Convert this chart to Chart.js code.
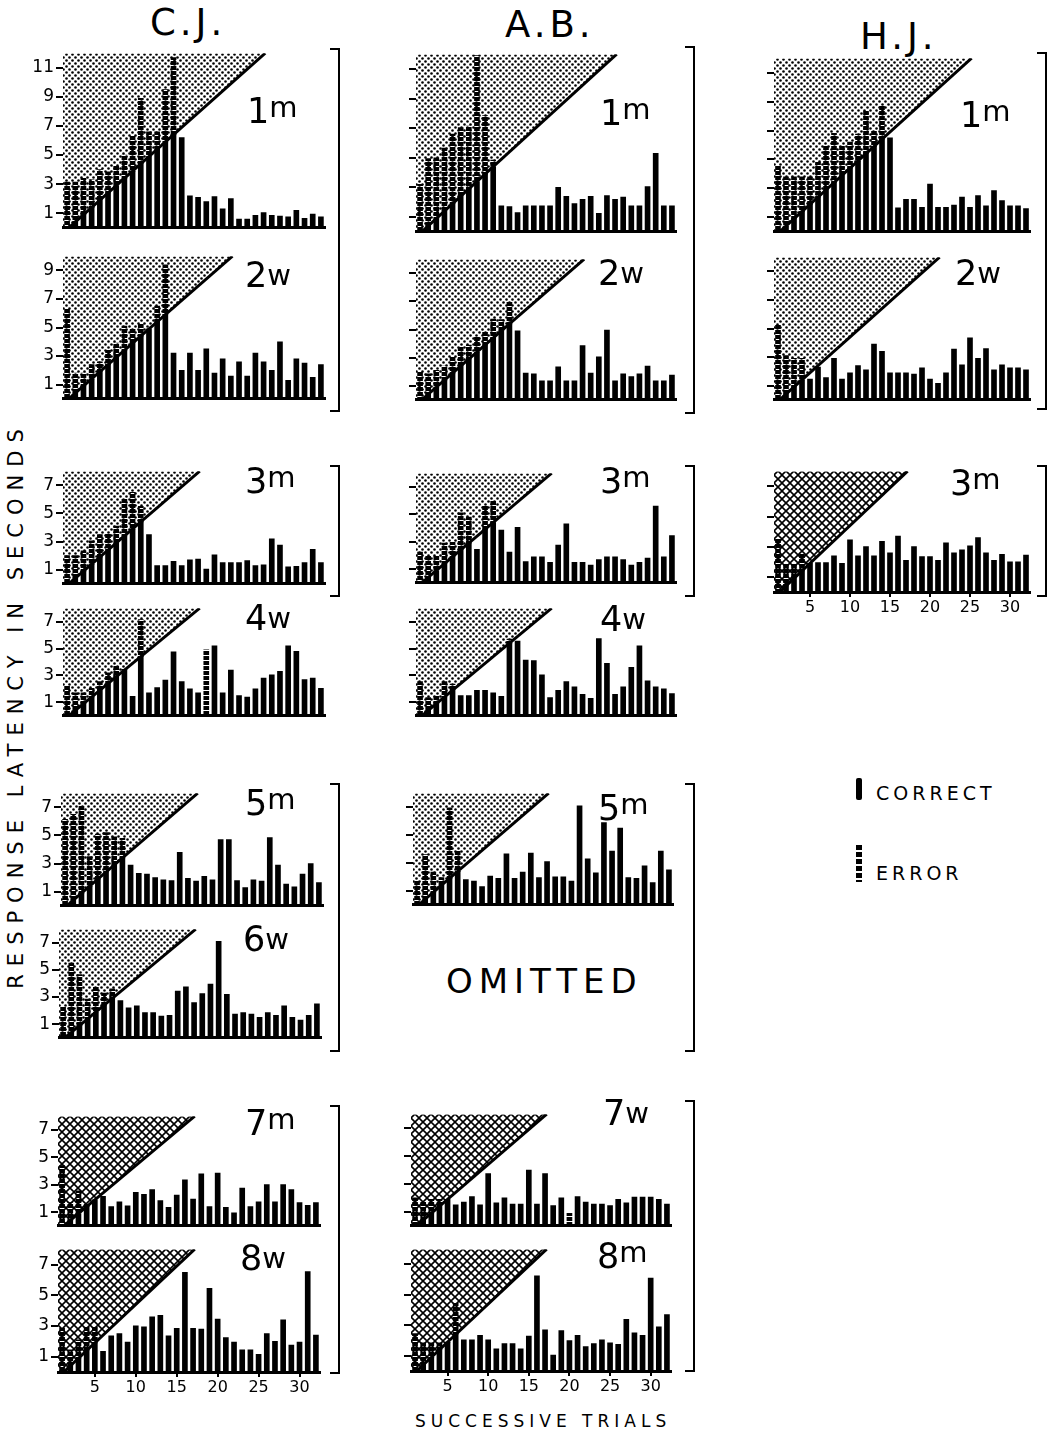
<!DOCTYPE html>
<html>
<head>
<meta charset="utf-8">
<title>Response latency</title>
<script src="https://cdn.jsdelivr.net/npm/chart.js@4.4.1/dist/chart.umd.min.js"></script>
<style>
  html, body { margin: 0; padding: 0; background: #fff; }
  body { position: relative; width: 1053px; height: 1436px; overflow: hidden; font-family: "DejaVu Sans", sans-serif; color: #000; }
  canvas { position: absolute; }
  .t { position: absolute; line-height: 1; white-space: nowrap; }
  .hd { font-size: 37px; letter-spacing: 4px; }
  .lab { font-size: 35px; }
  .lab span { position: relative; font-size: 29px; }
  .br { position: absolute; border: 2px solid #000; border-left: none; width: 8px; }
</style>
</head>
<body>

<div class="t hd" style="left:150px;top:4px">C.J.</div>
<div class="t hd" style="left:505px;top:6px">A.B.</div>
<div class="t hd" style="left:860px;top:18px">H.J.</div>

<div class="t" style="left:16px;top:705px;font-size:21px;letter-spacing:8px;transform:translate(-50%,-50%) rotate(-90deg)">RESPONSE LATENCY IN SECONDS</div>
<div class="t" style="left:415px;top:1413px;font-size:17px;letter-spacing:5px">SUCCESSIVE TRIALS</div>
<div class="t" style="left:446px;top:964px;font-size:34px;letter-spacing:6px">OMITTED</div>

<div style="position:absolute;left:856px;top:778px;width:6px;height:22px;background:#000;border-radius:2px"></div>
<div class="t" style="left:876px;top:784px;font-size:19px;letter-spacing:4px">CORRECT</div>
<div style="position:absolute;left:856px;top:845px;width:6px;height:37px;background:repeating-linear-gradient(#000 0 5px, transparent 5px 7px)"></div>
<div class="t" style="left:876px;top:864px;font-size:19px;letter-spacing:4px">ERROR</div>

<div class="br" style="left:330px;top:48px;height:360px"></div>
<div class="br" style="left:330px;top:465px;height:128px"></div>
<div class="br" style="left:330px;top:783px;height:265px"></div>
<div class="br" style="left:330px;top:1105px;height:265px"></div>
<div class="br" style="left:685px;top:46px;height:364px"></div>
<div class="br" style="left:685px;top:465px;height:128px"></div>
<div class="br" style="left:685px;top:783px;height:265px"></div>
<div class="br" style="left:685px;top:1100px;height:268px"></div>
<div class="br" style="left:1037px;top:52px;height:354px"></div>
<div class="br" style="left:1037px;top:465px;height:128px"></div>

<script>
// trials and axis ticks
const TRIALS = [1,2,3,4,5,6,7,8,9,10,11,12,13,14,15,16,17,18,19,20,21,22,23,24,25,26,27,28,29,30,31,32];
const X_LABELS = [5, 10, 15, 20, 25, 30];
const Y_TICKS_12 = [1,2,3,4,5,6,7,8,9,10,11,12];
const Y_TICKS_10 = [1,2,3,4,5,6,7,8,9,10];
const Y_TICKS_8 = [1,2,3,4,5,6,7,8];

// diagonal: latency = SLOPE * (trial - X0)
const SLOPE = 0.5, X0 = 1.2;

// latencies (seconds), trials 1-32
const CJ_1m = [3.15,3.15,3.4,3.3,4.0,3.85,4.3,5.0,6.3,8.9,6.6,6.6,9.5,11.7,6.2,2.2,2.1,1.8,2.15,1.3,2.0,0.6,0.6,0.85,1.05,0.85,0.8,0.75,1.2,0.65,0.95,0.75];
const CJ_2w = [6.3,1.8,1.8,2.4,2.6,3.4,3.9,5.1,4.9,5.3,4.9,6.5,9.4,3.2,2.0,3.2,2.0,3.5,1.8,2.8,1.6,2.6,1.6,3.2,2.6,2.0,4.0,1.3,2.8,2.5,1.5,2.4];
const CJ_3m = [2.0,2.0,2.35,3.05,3.5,3.55,4.1,6.0,6.5,5.5,3.5,1.3,1.3,1.6,1.3,1.7,1.75,1.05,2.05,1.5,1.5,1.5,1.65,1.3,1.35,3.2,2.75,1.2,1.25,1.5,2.45,1.5];
const CJ_4w = [2.25,1.7,1.7,2.05,2.55,3.2,3.7,3.45,1.45,7.15,1.7,2.1,2.65,4.75,2.55,2.0,1.7,4.9,5.2,1.7,3.4,1.5,1.4,2.0,2.8,3.05,3.3,5.2,4.8,2.7,2.8,2.05];
const CJ_4w_ERR = [18];
const CJ_5m = [6.15,6.5,7.1,3.5,5.1,5.2,4.9,4.8,2.9,2.3,2.25,2.0,1.85,1.8,3.8,1.95,1.75,2.1,1.85,4.7,4.7,1.8,1.3,1.85,1.75,4.85,2.9,1.55,1.35,2.25,3.0,1.65];
const CJ_6w = [2.3,5.5,4.65,2.85,3.8,3.3,3.6,2.75,2.2,2.35,1.85,1.85,1.6,1.65,3.45,3.75,2.6,3.25,3.95,7.1,3.2,1.75,1.85,1.75,1.5,1.85,1.65,2.35,1.5,1.3,1.65,2.5];
const CJ_7m = [4.4,1.7,2.55,1.6,1.9,2.15,1.4,1.75,1.45,2.45,2.3,2.65,1.85,1.35,2.25,3.35,1.95,3.8,1.4,3.85,1.35,0.95,2.75,1.4,1.75,3.0,1.75,3.0,2.65,1.7,1.5,1.7];
const CJ_8w = [2.85,1.45,2.1,2.95,2.95,1.35,2.35,2.5,1.95,3.0,2.95,3.6,3.7,2.35,2.85,6.5,2.85,2.8,5.45,3.45,2.25,1.95,1.45,1.45,1.15,2.5,2.0,3.4,1.75,1.95,6.55,2.4];

const AB_1m = [3.2,4.95,5.0,5.65,6.6,7.05,7.15,11.9,7.85,4.85,1.75,1.7,1.3,1.75,1.75,1.75,1.75,3.0,2.4,1.9,2.2,2.4,1.25,2.45,2.2,2.35,1.75,1.75,3.05,5.3,1.75,1.75];
const AB_2w = [2.0,1.85,2.1,2.4,3.05,3.8,3.9,4.45,4.85,5.75,5.7,7.0,4.9,1.9,1.85,1.35,1.35,2.35,1.35,1.35,3.85,1.9,3.05,4.95,1.35,1.85,1.65,1.85,2.4,1.35,1.35,1.75];
const AB_3m = [2.25,1.95,1.95,2.9,2.95,5.1,4.8,2.45,5.6,5.95,3.85,2.25,4.05,1.55,1.9,1.9,1.5,2.75,4.3,1.5,1.5,1.3,1.7,1.9,1.9,1.7,1.3,1.5,1.8,5.6,1.9,3.45];
const AB_4w = [2.55,1.35,1.5,2.55,2.35,1.5,1.5,1.9,1.9,1.7,1.45,5.7,5.55,4.15,4.1,3.05,1.35,1.9,2.55,2.15,1.6,1.3,5.75,3.9,1.6,2.15,3.6,5.2,2.6,2.15,2.0,1.65];
const AB_5m = [1.7,3.6,2.35,1.95,6.95,3.9,1.8,1.7,1.3,2.05,1.9,3.65,1.9,2.35,3.7,1.95,3.1,2.0,2.0,1.7,7.1,3.3,2.3,5.9,3.85,5.5,1.95,1.9,2.8,1.6,3.85,2.5];
const AB_7w = [2.0,1.7,1.9,1.9,1.9,1.5,1.7,2.1,1.5,3.75,1.65,2.0,1.55,1.55,4.0,1.55,3.75,1.45,2.0,0.9,2.1,1.7,1.55,1.55,1.45,1.9,1.65,2.05,2.05,2.05,1.9,1.55];
const AB_7w_ERR = [20];
const AB_8m = [2.45,1.85,1.85,1.85,1.95,4.45,2.05,2.05,2.35,2.05,1.45,1.8,1.8,1.45,2.3,6.25,2.7,1.05,2.65,2.0,2.35,1.6,1.8,2.05,1.85,1.75,3.4,2.5,2.35,6.1,2.9,3.7];

const HJ_1m = [4.55,3.8,3.8,3.8,3.8,4.8,5.9,6.8,5.9,6.2,6.75,8.35,7.0,8.7,6.5,1.65,2.25,2.25,1.7,3.3,1.7,1.7,1.85,2.4,1.7,2.5,1.8,2.85,2.15,1.8,1.8,1.6];
const HJ_2w = [5.3,3.1,2.9,2.9,1.45,2.3,1.55,2.9,1.45,1.9,2.4,2.1,3.9,3.4,1.9,1.9,1.9,1.8,2.25,1.45,1.15,1.9,3.55,2.45,4.35,2.9,3.6,2.1,2.45,2.25,2.25,2.1];
const HJ_3m = [3.5,1.9,1.9,2.5,1.9,1.95,1.95,2.4,1.9,3.45,2.4,3.0,2.4,3.35,2.6,3.7,2.1,3.0,2.35,2.35,2.1,3.25,2.6,2.8,3.05,3.6,2.6,2.1,2.5,2.0,2.0,2.45];

// panel placement (chart area in page pixels)
const PANELS = [
  {values: CJ_1m, ymax: 12, yticks: Y_TICKS_12, left: 63, top: 47, bottom: 237, w: 262, nums: true, hatch: 'dots', tag: ['1', 'm'], lx: 247, ly: 94},
  {values: CJ_2w, ymax: 10, yticks: Y_TICKS_10, left: 63, top: 250, bottom: 408, w: 262, nums: true, hatch: 'dots', tag: ['2', 'w'], lx: 245, ly: 258},
  {values: CJ_3m, ymax: 8, yticks: Y_TICKS_8, left: 63, top: 465, bottom: 593, w: 262, nums: true, hatch: 'dots', tag: ['3', 'm'], lx: 245, ly: 464},
  {values: CJ_4w, errors: CJ_4w_ERR, ymax: 8, yticks: Y_TICKS_8, left: 63, top: 602, bottom: 725, w: 262, nums: true, hatch: 'dots', tag: ['4', 'w'], lx: 245, ly: 601},
  {values: CJ_5m, ymax: 8, yticks: Y_TICKS_8, left: 61, top: 787, bottom: 915, w: 262, nums: true, hatch: 'dots', tag: ['5', 'm'], lx: 245, ly: 786},
  {values: CJ_6w, ymax: 8, yticks: Y_TICKS_8, left: 59, top: 923, bottom: 1047, w: 262, nums: true, hatch: 'dots', tag: ['6', 'w'], lx: 243, ly: 922},
  {values: CJ_7m, ymax: 8, yticks: Y_TICKS_8, left: 58, top: 1110, bottom: 1235, w: 262, nums: true, hatch: 'cross', tag: ['7', 'm'], lx: 245, ly: 1106},
  {values: CJ_8w, ymax: 8, yticks: Y_TICKS_8, left: 58, top: 1243, bottom: 1372, w: 262, nums: true, xl: true, hatch: 'cross', tag: ['8', 'w'], lx: 240, ly: 1241},

  {values: AB_1m, ymax: 12, yticks: Y_TICKS_12, left: 416, top: 48, bottom: 241, w: 260, hatch: 'dots', tag: ['1', 'm'], lx: 600, ly: 96},
  {values: AB_2w, ymax: 10, yticks: Y_TICKS_10, left: 416, top: 253, bottom: 409, w: 260, hatch: 'dots', tag: ['2', 'w'], lx: 598, ly: 256},
  {values: AB_3m, ymax: 8, yticks: Y_TICKS_8, left: 416, top: 467, bottom: 592, w: 260, hatch: 'dots', tag: ['3', 'm'], lx: 600, ly: 464},
  {values: AB_4w, ymax: 8, yticks: Y_TICKS_8, left: 416, top: 602, bottom: 725, w: 260, hatch: 'dots', tag: ['4', 'w'], lx: 600, ly: 602},
  {values: AB_5m, ymax: 8, yticks: Y_TICKS_8, left: 413, top: 787, bottom: 914, w: 260, hatch: 'dots', tag: ['5', 'm'], lx: 598, ly: 791},
  {values: AB_7w, errors: AB_7w_ERR, ymax: 8, yticks: Y_TICKS_8, left: 411, top: 1108, bottom: 1235, w: 260, hatch: 'cross', tag: ['7', 'w'], lx: 603, ly: 1096},
  {values: AB_8m, ymax: 8, yticks: Y_TICKS_8, left: 411, top: 1243, bottom: 1371, w: 260, xl: true, hatch: 'cross', tag: ['8', 'm'], lx: 597, ly: 1239},

  {values: HJ_1m, ymax: 12, yticks: Y_TICKS_12, left: 774, top: 52, bottom: 241, w: 256, hatch: 'dots', tag: ['1', 'm'], lx: 960, ly: 98},
  {values: HJ_2w, ymax: 10, yticks: Y_TICKS_10, left: 774, top: 251, bottom: 409, w: 256, hatch: 'dots', tag: ['2', 'w'], lx: 955, ly: 256},
  {values: HJ_3m, ymax: 8, yticks: Y_TICKS_8, left: 774, top: 465, bottom: 592, w: 256, xl: true, hatch: 'cross', tag: ['3', 'm'], lx: 950, ly: 466}
];

Chart.defaults.font.family = '"DejaVu Sans", sans-serif';
Chart.defaults.color = '#000';

function tile(w, h, paint) {
  const c = document.createElement('canvas');
  c.width = w; c.height = h;
  paint(c.getContext('2d'));
  return c;
}
// bead column for error / above-diagonal bar parts
const BEAD = tile(1, 5, g => { g.fillStyle = '#000'; g.fillRect(0, 0, 1, 4); });
// dot screen and cross-hatch for the shaded triangle
const DOTS = tile(6, 6, g => {
  g.fillStyle = '#000';
  g.beginPath(); g.arc(1.5, 1.5, 1.3, 0, Math.PI * 2); g.fill();
  g.beginPath(); g.arc(4.5, 4.5, 1.3, 0, Math.PI * 2); g.fill();
});
const CROSS = tile(8, 8, g => {
  g.strokeStyle = '#000'; g.lineWidth = 1.6;
  g.beginPath(); g.moveTo(0, 0); g.lineTo(8, 8); g.moveTo(8, 0); g.lineTo(0, 8); g.stroke();
});

function drawPanel(p) {
  const yW = 40, padT = 6, padR = 3, xH = p.xl ? 26 : 3;
  const cv = document.createElement('canvas');
  cv.width = yW + p.w + padR;
  cv.height = padT + (p.bottom - p.top) + xH;
  cv.style.left = (p.left - yW) + 'px';
  cv.style.top = (p.top - padT) + 'px';
  document.body.appendChild(cv);
  const ctx = cv.getContext('2d');

  // split each bar: solid under the diagonal, beaded above it; errors beaded whole
  const solid = [], above = [], wrong = [];
  p.values.forEach((v, i) => {
    const t = TRIALS[i];
    if ((p.errors || []).includes(t)) { wrong.push({x: t, y: [0, v]}); return; }
    const d = Math.max(0, SLOPE * (t - X0));
    solid.push({x: t, y: [0, Math.min(v, d)]});
    if (v > d) above.push({x: t, y: [d, v]});
  });
  const xEnd = X0 + p.ymax / SLOPE;
  const edge = [{x: 0.5, y: 0}, {x: X0, y: 0}, {x: xEnd, y: p.ymax}];
  const bead = ctx.createPattern(BEAD, 'repeat');
  const bar = {type: 'bar', barThickness: 5, grouped: false, borderWidth: 0, order: 2};

  new Chart(ctx, {
    type: 'bar',
    data: {
      datasets: [
        {type: 'line', data: edge, fill: 'end', backgroundColor: ctx.createPattern(p.hatch === 'cross' ? CROSS : DOTS, 'repeat'),
         borderWidth: 0, pointRadius: 0, order: 5},
        {...bar, data: solid, backgroundColor: '#000'},
        {...bar, data: above, backgroundColor: bead},
        {...bar, data: wrong, backgroundColor: bead},
        {type: 'line', data: edge.slice(1), fill: false, borderColor: '#000', borderWidth: 3, pointRadius: 0, order: 0}
      ]
    },
    options: {
      responsive: false,
      animation: false,
      devicePixelRatio: 1,
      layout: {padding: {top: padT, right: padR, left: 0, bottom: 0}},
      plugins: {legend: {display: false}, tooltip: {enabled: false}},
      scales: {
        x: {
          type: 'linear', min: 0.5, max: 32.5, offset: false,
          afterFit: s => { s.height = xH; },
          afterBuildTicks: s => { if (p.xl) s.ticks = X_LABELS.map(v => ({value: v})); },
          ticks: {display: !!p.xl, autoSkip: false, maxRotation: 0, padding: 1, font: {size: 16}},
          grid: {display: !!p.xl, drawOnChartArea: false, offset: false, tickLength: 5, lineWidth: 2, color: '#000'},
          border: {display: true, width: 3, color: '#000'}
        },
        y: {
          min: 0, max: p.ymax,
          afterFit: s => { s.width = yW; },
          afterBuildTicks: s => { s.ticks = p.yticks.map(v => ({value: v})); },
          ticks: {padding: 2, font: {size: 17}, callback: v => (p.nums && v % 2 === 1) ? String(v) : ''},
          grid: {drawOnChartArea: false, tickLength: 7, lineWidth: 2, color: '#000'},
          border: {display: false}
        }
      }
    }
  });

  // session tag, e.g. "1m"
  const lab = document.createElement('div');
  lab.className = 't lab';
  lab.style.left = p.lx + 'px';
  lab.style.top = p.ly + 'px';
  lab.textContent = p.tag[0];
  const sup = document.createElement('span');
  sup.textContent = p.tag[1];
  sup.style.top = p.tag[1] === 'm' ? '-6px' : '-2px';
  lab.appendChild(sup);
  document.body.appendChild(lab);
}

PANELS.forEach(drawPanel);
</script>
</body>
</html>
